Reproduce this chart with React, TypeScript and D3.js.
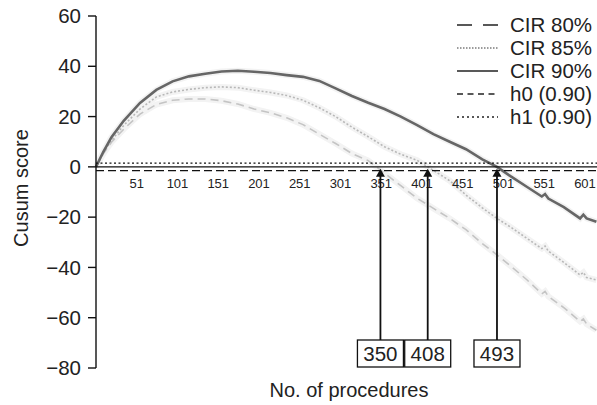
import { useRef, useEffect } from "react";
import * as d3 from "d3";

const procedures = [1, 10, 20, 35, 55, 75, 95, 115, 135, 155, 175, 195, 215, 235, 255, 275, 295, 315, 335, 355, 375, 395, 415, 435, 455, 475, 493, 510, 530, 548, 552, 556, 575, 595, 599, 603, 615];

const cir90 = [0, 6, 11.8, 18.3, 25.4, 30.6, 34, 36, 37, 37.9, 38.2, 37.8, 37.3, 36.5, 35.8, 34.2, 31.2, 28.2, 25.5, 23, 20, 16.6, 13, 10, 7, 3, 0, -3.8, -8, -11.8, -10.8, -12.6, -16, -20.5, -19, -20.5, -21.8];
const cir85 = [0, 5.5, 10.5, 16.5, 23, 27.8, 29.8, 30.8, 31.5, 31.8, 31.5, 30.5, 29.6, 28.4, 26.5, 23.5, 20, 15.8, 12, 8, 5, 2.6, -1.4, -5.5, -11.2, -16.3, -20.5, -24, -28.5, -32.5, -31.5, -33.5, -38, -43, -42, -44, -45];
const cir80 = [0, 5.2, 9.8, 15, 21, 24.8, 26.5, 27, 27, 26.3, 25, 23, 21.5, 19.5, 16.8, 13, 9.3, 5.3, 2.5, -2.5, -7.5, -12.5, -16.5, -20.5, -25, -30.5, -35, -39.5, -45, -50.5, -49.5, -51.5, -56, -61.5, -60.5, -62.5, -65];

const h0 = -1.5;
const h1 = 1.5;

const xTicks = [51, 101, 151, 201, 251, 301, 351, 401, 451, 501, 551, 601];
const yTicks = [60, 40, 20, 0, -20, -40, -60, -80];
const crossings = [350, 408, 493];

const legendLabels = ["CIR 80%", "CIR 85%", "CIR 90%", "h0 (0.90)", "h1 (0.90)"];
const legendDash = ["15,11", "1.5,1.5", null, "6,4.5", "2,3"];

const App = () => {
  const svgRef = useRef(null);

  useEffect(() => {
    const svg = d3.select(svgRef.current);
    svg.selectAll("*").remove();

    const font = "'Liberation Sans', Arial, sans-serif";

    // escalas
    const x = d3.scaleLinear().domain([1, 601]).range([96, 585]);
    const y = d3.scaleLinear().domain([-80, 60]).range([368, 16]);

    // curvas: halo claro debajo
    const series = [
      { v: cir80, color: "#c4c4c4", w: 1.6, dash: "8,5" },
      { v: cir85, color: "#b8b8b8", w: 1.6, dash: "2,2" },
      { v: cir90, color: "#666666", w: 2.6, dash: null },
    ];
    const line = (vals) =>
      d3
        .line()
        .x((d, i) => x(procedures[i]))
        .y((d) => y(d))(vals);

    series.forEach((s) => {
      svg
        .append("path")
        .attr("d", line(s.v))
        .attr("fill", "none")
        .attr("stroke", "#f3f3f3")
        .attr("stroke-width", 6);
    });
    series.forEach((s) => {
      svg
        .append("path")
        .attr("d", line(s.v))
        .attr("fill", "none")
        .attr("stroke", s.color)
        .attr("stroke-width", s.w)
        .attr("stroke-dasharray", s.dash);
    });

    // lineas de referencia
    const xEnd = 597;
    svg.append("line").attr("x1", x(1)).attr("x2", xEnd).attr("y1", y(0)).attr("y2", y(0)).attr("stroke", "#111").attr("stroke-width", 1.4);
    svg.append("line").attr("x1", x(1)).attr("x2", xEnd).attr("y1", y(h1)).attr("y2", y(h1)).attr("stroke", "#111").attr("stroke-width", 1.3).attr("stroke-dasharray", "2,2.5");
    svg.append("line").attr("x1", x(1)).attr("x2", xEnd).attr("y1", y(h0)).attr("y2", y(h0)).attr("stroke", "#111").attr("stroke-width", 1.3).attr("stroke-dasharray", "8,4");

    // eje Y
    svg.append("line").attr("x1", 96).attr("x2", 96).attr("y1", y(60)).attr("y2", y(-80)).attr("stroke", "#111").attr("stroke-width", 1.4);
    yTicks.forEach((t) => {
      svg.append("line").attr("x1", 88).attr("x2", 96).attr("y1", y(t)).attr("y2", y(t)).attr("stroke", "#111").attr("stroke-width", 1.4);
      svg
        .append("text")
        .attr("x", 81)
        .attr("y", y(t))
        .attr("dy", "0.35em")
        .attr("text-anchor", "end")
        .attr("font-family", font)
        .attr("font-size", 20.5)
        .attr("fill", "#222")
        .text(t < 0 ? "\u2212" + Math.abs(t) : String(t));
    });

    // etiquetas X
    xTicks.forEach((t) => {
      svg
        .append("text")
        .attr("x", x(t))
        .attr("y", 188)
        .attr("text-anchor", "middle")
        .attr("font-family", font)
        .attr("font-size", 13)
        .attr("fill", "#222")
        .text(t);
    });

    // titulos de ejes
    svg
      .append("text")
      .attr("transform", `translate(28,188) rotate(-90)`)
      .attr("text-anchor", "middle")
      .attr("font-family", font)
      .attr("font-size", 20)
      .attr("fill", "#222")
      .text("Cusum score");
    svg
      .append("text")
      .attr("x", 349)
      .attr("y", 397)
      .attr("text-anchor", "middle")
      .attr("font-family", font)
      .attr("font-size", 20)
      .attr("fill", "#222")
      .text("No. of procedures");

    // flechas y cajas
    const boxTop = 340;
    const boxH = 27;
    const boxW = 46;
    crossings.forEach((c) => {
      const cx = x(c);
      svg.append("line").attr("x1", cx).attr("x2", cx).attr("y1", boxTop).attr("y2", y(0) + 9).attr("stroke", "#111").attr("stroke-width", 1.8);
      svg
        .append("path")
        .attr("d", `M${cx},${y(0) + 2}L${cx - 4.5},${y(0) + 10}L${cx + 4.5},${y(0) + 10}Z`)
        .attr("fill", "#111");
      svg
        .append("rect")
        .attr("x", cx - boxW / 2)
        .attr("y", boxTop)
        .attr("width", boxW)
        .attr("height", boxH)
        .attr("fill", "white")
        .attr("stroke", "#111")
        .attr("stroke-width", 1.3);
      svg
        .append("text")
        .attr("x", cx)
        .attr("y", boxTop + boxH / 2)
        .attr("dy", "0.36em")
        .attr("text-anchor", "middle")
        .attr("font-family", font)
        .attr("font-size", 20.5)
        .attr("fill", "#222")
        .text(c);
    });

    // leyenda
    legendLabels.forEach((lab, i) => {
      const ly = 25 + i * 23;
      svg
        .append("line")
        .attr("x1", 457)
        .attr("x2", 498)
        .attr("y1", ly)
        .attr("y2", ly)
        .attr("stroke", "#222")
        .attr("stroke-width", i === 1 ? 0.9 : 1.3)
        .attr("stroke-dasharray", legendDash[i]);
      svg
        .append("text")
        .attr("x", 510)
        .attr("y", ly)
        .attr("dy", "0.35em")
        .attr("font-family", font)
        .attr("font-size", 20.5)
        .attr("fill", "#222")
        .text(lab);
    });
  }, []);

  return (
    <svg
      ref={svgRef}
      width={597}
      height={405}
      style={{ position: "absolute", left: 0, top: 0, background: "white" }}
    ></svg>
  );
};

export default App;
